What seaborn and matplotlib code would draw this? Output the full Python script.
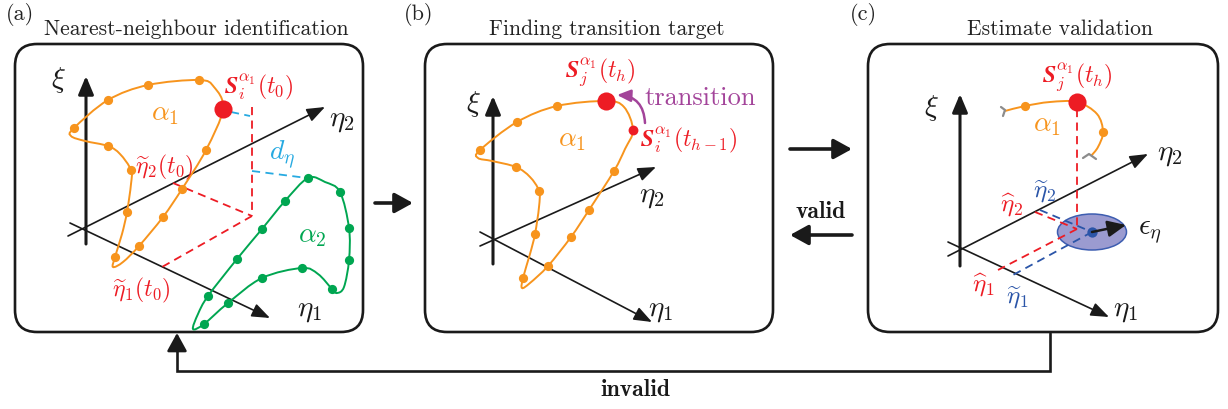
import numpy as np
import matplotlib
matplotlib.use("Agg")
import matplotlib.pyplot as plt
from matplotlib.path import Path
from matplotlib.patches import PathPatch, FancyBboxPatch, Ellipse
import seaborn as sns

sns.set_theme(style="white")
plt.rcParams["font.family"] = ["cmr10", "DejaVu Serif"]
plt.rcParams["mathtext.fontset"] = "cm"
plt.rcParams["axes.unicode_minus"] = False

ORANGE = "#F7941D"
GREEN = "#00A651"
RED = "#ED1C24"
CYAN = "#27AAE1"
PURPLE = "#A3449A"
BLUE = "#2B55A8"
GRAY = "#8C8C8C"

# ---- panel (a): trajectory alpha_1 (closed loop), vertices and dot flags
a1_x = [223, 206, 182, 163, 139, 123, 113, 115, 122, 127, 131, 131, 120, 108, 85, 71, 74, 108, 148, 199, 214]
a1_y = [110, 151, 190, 218, 247, 263, 268, 258, 235, 213, 185, 171, 155, 147, 142, 137, 129, 101, 86, 81, 88]
a1_dot = [0, 1, 1, 1, 1, 0, 0, 1, 0, 1, 0, 1, 0, 1, 0, 0, 1, 1, 1, 1, 0]

# ---- panel (a): trajectory alpha_2 (closed loop)
a2_x = [308, 325, 340, 349, 349, 344, 337, 332, 318, 302, 262, 228, 204, 193, 198, 208, 237, 262, 285]
a2_y = [179, 183, 193, 229, 261, 288, 294, 290, 275, 269, 279, 304, 325, 330, 315, 297, 260, 230, 202]
a2_dot = [1, 0, 1, 1, 1, 0, 0, 1, 0, 1, 1, 1, 1, 0, 0, 1, 1, 1, 1]

# ---- panel (b): trajectory alpha_1 (closed loop)
b1_x = [606, 624, 633, 625, 614, 589, 571, 548, 530, 522, 523, 530, 535, 539, 539, 530, 516, 492, 478, 480, 517, 557]
b1_y = [102, 108, 131, 150, 172, 211, 238, 267, 284, 289, 279, 255, 235, 208, 192, 178, 168, 162, 159, 151, 123, 107]
b1_dot = [0, 0, 0, 0, 1, 1, 1, 1, 0, 0, 1, 0, 1, 0, 1, 0, 1, 0, 0, 1, 1, 1]

# ---- panel (c): short arc of alpha_1
c1_x = [1005, 1025, 1050, 1077, 1097, 1103, 1098, 1091]
c1_y = [112, 107, 103, 103, 115, 133, 148, 157]
c1_dot = [0, 1, 0, 0, 0, 1, 0, 0]

# panel frames: left, top, right, bottom
frames = [(15, 45, 363, 333), (425, 45, 773, 333), (868, 45, 1218, 333)]
titles = ["Nearest-neighbour identification", "Finding transition target", "Estimate validation"]
title_x = [196, 607, 1060]
tags = ["(a)", "(b)", "(c)"]
tag_x = [20, 419, 863]

# coordinate axes per panel: xi (x, y_bottom, y_top), eta2 (start, end), eta1 (start, end)
xi_axes = [(86, 245, 77), (493, 265, 97), (960, 267, 95)]
eta2_axes = [((68, 237), (325, 108)), ((480, 247), (656, 168)), ((948, 257), (1148, 155))]
eta1_axes = [((70, 224), (270, 319)), ((480, 233), (652, 323)), ((948, 243), (1109, 318))]
xi_lbl = [(58, 80), (473, 104), (931, 108)]
eta2_lbl = [(342, 121), (652, 197), (1170, 155)]
eta1_lbl = [(310, 311), (661, 311), (1126, 311)]

fig = plt.figure(figsize=(12.28, 4.10), dpi=100)
ax = fig.add_axes([0, 0, 1, 1])
ax.set_xlim(0, 1228)
ax.set_ylim(410, 0)
ax.axis("off")


def smooth_path(xs, ys, closed):
    pts = np.column_stack([xs, ys]).astype(float)
    n = len(pts)
    verts = [pts[0]]
    codes = [Path.MOVETO]
    nseg = n if closed else n - 1
    for i in range(nseg):
        p0 = pts[(i - 1) % n] if (closed or i > 0) else pts[0]
        p1 = pts[i]
        p2 = pts[(i + 1) % n]
        p3 = pts[(i + 2) % n] if (closed or i + 2 < n) else p2
        verts += [p1 + (p2 - p0) / 6.0, p2 - (p3 - p1) / 6.0, p2]
        codes += [Path.CURVE4] * 3
    return Path(verts, codes)


def trajectory(xs, ys, dots, color, closed=True):
    ax.add_patch(PathPatch(smooth_path(xs, ys, closed), fill=False, edgecolor=color, lw=1.4, zorder=3))
    dx = [x for x, d in zip(xs, dots) if d]
    dy = [y for y, d in zip(ys, dots) if d]
    sns.scatterplot(x=dx, y=dy, color=color, s=44, linewidth=0, ax=ax, zorder=4, legend=False)


def arrow(p0, p1, lw=1.2, color="k", hl=1.0, hw=0.38, ms=11, z=2):
    ax.annotate("", xy=p1, xytext=p0,
                arrowprops=dict(arrowstyle=f"-|>,head_length={hl},head_width={hw}", lw=lw, color=color,
                                shrinkA=0, shrinkB=0, mutation_scale=ms), zorder=z)


def dashed(xs, ys, color, lw=1.3):
    ax.plot(xs, ys, color=color, lw=lw, ls=(0, (4.5, 3)), zorder=2.5)


def label(x, y, s, color="k", size=19, **kw):
    ax.text(x, y, s, color=color, fontsize=size, ha="center", va="center", **kw)


# frames, titles and tags
for (l, t, r, b), title, tx, tag, gx in zip(frames, titles, title_x, tags, tag_x):
    ax.add_patch(FancyBboxPatch((l, t), r - l, b - t, boxstyle="round,pad=0,rounding_size=22",
                                fill=False, edgecolor="k", lw=1.9, zorder=1))
    label(tx, 29, title, color="#222222", size=15.5)
    label(gx, 15, tag, color="#222222", size=16)

# coordinate axes
for (x, yb, yt), (e2a, e2b), (e1a, e1b), xl, l2, l1 in zip(xi_axes, eta2_axes, eta1_axes, xi_lbl, eta2_lbl, eta1_lbl):
    arrow((x, yb), (x, yt), lw=2.2, hl=1.0, hw=0.42)
    arrow(e2a, e2b)
    arrow(e1a, e1b)
    label(*xl, r"$\xi$", size=21)
    label(*l2, r"$\eta_2$", size=21)
    label(*l1, r"$\eta_1$", size=21)

# ---- panel (a)
trajectory(a1_x, a1_y, a1_dot, ORANGE)
trajectory(a2_x, a2_y, a2_dot, GREEN)
sns.scatterplot(x=[a1_x[0]], y=[a1_y[0]], color=RED, s=170, linewidth=0, ax=ax, zorder=5, legend=False)
dashed([252, 252], [108, 217], RED)
dashed([173, 252], [184, 217], RED)
dashed([252, 162], [217, 268], RED)
dashed([231, 250], [113, 117], CYAN)
dashed([252, 307], [172, 179], CYAN)
label(165, 114, r"$\alpha_1$", ORANGE, 20)
label(312, 236, r"$\alpha_2$", GREEN, 20)
label(282, 155, r"$d_\eta$", CYAN, 20)
label(259, 87, r"$\mathbfit{S}_i^{\alpha_1}(t_0)$", RED, 17)
label(164, 167, r"$\widetilde{\eta}_2(t_0)$", RED, 17)
label(141, 290, r"$\widetilde{\eta}_1(t_0)$", RED, 17)

# ---- panel (b)
trajectory(b1_x, b1_y, b1_dot, ORANGE)
sns.scatterplot(x=[b1_x[0]], y=[b1_y[0]], color=RED, s=170, linewidth=0, ax=ax, zorder=5, legend=False)
sns.scatterplot(x=[b1_x[2]], y=[b1_y[2]], color=RED, s=50, linewidth=0, ax=ax, zorder=5, legend=False)
ax.annotate("", xy=(617, 96), xytext=(645, 124),
            arrowprops=dict(arrowstyle="-|>,head_length=0.9,head_width=0.4", lw=1.8, color=PURPLE,
                            shrinkA=0, shrinkB=0, mutation_scale=9, connectionstyle="arc3,rad=0.45"),
            zorder=6)
label(700, 98, "transition", PURPLE, 19)
label(600, 72, r"$\mathbfit{S}_j^{\alpha_1}(t_h)$", RED, 17)
label(689, 140, r"$\mathbfit{S}_i^{\alpha_1}(t_{h-1})$", RED, 17)
label(572, 140, r"$\alpha_1$", ORANGE, 20)

# ---- panel (c)
trajectory(c1_x, c1_y, c1_dot, ORANGE, closed=False)
ax.plot([1001, 1005, 1003], [108, 111, 117], color=GRAY, lw=1.6, zorder=3)
ax.plot([1083, 1089, 1096], [159, 155, 160], color=GRAY, lw=1.6, zorder=3)
sns.scatterplot(x=[c1_x[3]], y=[c1_y[3]], color=RED, s=170, linewidth=0, ax=ax, zorder=5, legend=False)
ax.add_patch(Ellipse((1092, 233), 69, 36, facecolor="#9B9BD0", edgecolor="#3D5DB0", lw=1.1, zorder=2))
dashed([1077, 1077], [110, 230], RED)
dashed([1035, 1077], [213, 230], RED)
dashed([1077, 998], [230, 271], RED)
dashed([1040, 1092], [211, 233], BLUE)
dashed([1092, 1013], [233, 276], BLUE)
sns.scatterplot(x=[1092], y=[233], color=BLUE, s=55, linewidth=0, ax=ax, zorder=5, legend=False)
arrow((1092, 233), (1126, 226), lw=1.8, hl=1.0, hw=0.45, ms=11, z=6)
label(1150, 233, r"$\epsilon_\eta$", size=21)
label(1077, 77, r"$\mathbfit{S}_j^{\alpha_1}(t_h)$", RED, 17)
label(1047, 125, r"$\alpha_1$", ORANGE, 20)
label(1012, 205, r"$\widehat{\eta}_2$", RED, 18)
label(1045, 191, r"$\widetilde{\eta}_2$", BLUE, 18)
label(983, 285, r"$\widehat{\eta}_1$", RED, 18)
label(1017, 297, r"$\widetilde{\eta}_1$", BLUE, 18)

# ---- flow between panels
arrow((375, 204), (413, 204), lw=2.6, hl=1.0, hw=0.55, ms=11)
arrow((790, 150), (852, 150), lw=2.6, hl=1.0, hw=0.55, ms=11)
arrow((852, 236), (790, 236), lw=2.6, hl=1.0, hw=0.55, ms=11)
label(821, 212, "valid", size=17, family=["cmb10", "DejaVu Serif"])
ax.plot([1050, 1050, 177, 177], [334, 372, 372, 350], color="k", lw=1.9, zorder=2,
        solid_joinstyle="miter")
arrow((177, 352), (177, 334), lw=1.9, hl=1.0, hw=0.55, ms=11)
label(635, 390, "invalid", size=17, family=["cmb10", "DejaVu Serif"])

fig.savefig("out.png", dpi=100, facecolor="white")
